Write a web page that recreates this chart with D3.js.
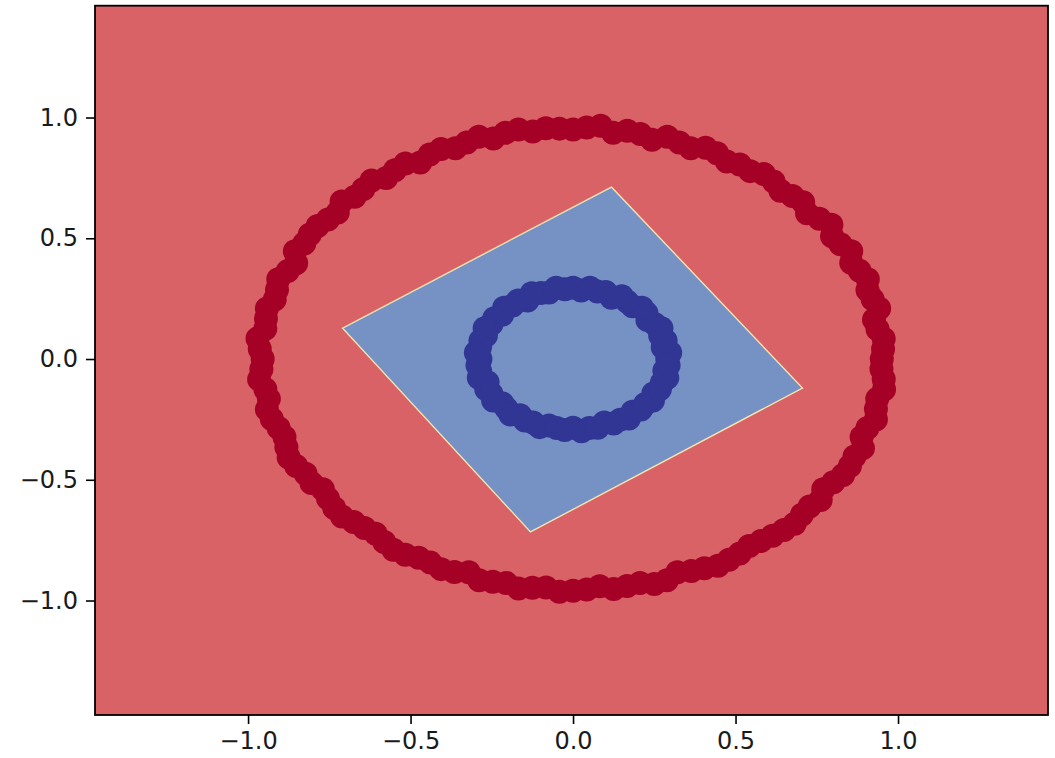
<!DOCTYPE html>
<html>
<head>
<meta charset="utf-8">
<script src="https://cdn.jsdelivr.net/npm/d3@7"></script>
<style>
  html, body { margin: 0; padding: 0; background: #ffffff; }
  svg { display: block; }
  .tick text { font-family: "DejaVu Sans", sans-serif; }
</style>
</head>
<body>
<div id="chart"></div>
<script>
// Outer ring samples (class 0)
const outerX = [
  0.950, 0.954, 0.956, 0.937, 0.926, 0.942, 0.922, 0.906, 0.907, 0.882, 0.856, 0.856, 0.823, 0.797, 0.795, 0.758,
  0.720, 0.708, 0.675, 0.638, 0.617, 0.587, 0.545, 0.513, 0.473, 0.443, 0.408, 0.362, 0.327, 0.290, 0.243, 0.207,
  0.167, 0.123, 0.085, 0.042, 0.000, -0.042, -0.084, -0.124, -0.168, -0.208, -0.245, -0.290, -0.327, -0.362, -0.406, -0.441,
  -0.470, -0.516, -0.548, -0.575, -0.620, -0.645, -0.672, -0.712, -0.724, -0.754, -0.786, -0.810, -0.827, -0.856, -0.852, -0.878,
  -0.907, -0.911, -0.918, -0.942, -0.945, -0.947, -0.971, -0.964, -0.955, -0.959, -0.966, -0.947, -0.936, -0.942, -0.927, -0.906,
  -0.888, -0.882, -0.875, -0.852, -0.823, -0.805, -0.770, -0.754, -0.735, -0.711, -0.675, -0.642, -0.607, -0.581, -0.553, -0.516,
  -0.475, -0.439, -0.406, -0.365, -0.321, -0.289, -0.247, -0.206, -0.168, -0.125, -0.083, -0.042, 0.000, 0.042, 0.082, 0.125,
  0.166, 0.206, 0.250, 0.289, 0.321, 0.364, 0.404, 0.446, 0.480, 0.513, 0.542, 0.578, 0.614, 0.649, 0.682, 0.704,
  0.728, 0.762, 0.770, 0.801, 0.831, 0.852, 0.866, 0.892, 0.888, 0.906, 0.932, 0.932, 0.936, 0.957, 0.956, 0.949
];
const outerY = [
  0.000, 0.042, 0.084, 0.123, 0.163, 0.209, 0.247, 0.286, 0.330, 0.365, 0.399, 0.446, 0.475, 0.508, 0.556, 0.581,
  0.604, 0.649, 0.675, 0.697, 0.735, 0.766, 0.778, 0.805, 0.818, 0.852, 0.875, 0.873, 0.897, 0.920, 0.908, 0.932,
  0.945, 0.937, 0.966, 0.959, 0.950, 0.954, 0.956, 0.942, 0.950, 0.937, 0.913, 0.920, 0.897, 0.873, 0.870, 0.847,
  0.814, 0.810, 0.782, 0.750, 0.739, 0.704, 0.672, 0.652, 0.607, 0.578, 0.551, 0.516, 0.478, 0.446, 0.397, 0.364,
  0.330, 0.287, 0.246, 0.209, 0.167, 0.125, 0.085, 0.042, 0.000, -0.042, -0.085, -0.125, -0.165, -0.209, -0.248, -0.286,
  -0.323, -0.365, -0.408, -0.443, -0.475, -0.513, -0.539, -0.578, -0.617, -0.652, -0.675, -0.700, -0.724, -0.758, -0.790, -0.810,
  -0.823, -0.843, -0.870, -0.882, -0.883, -0.916, -0.922, -0.927, -0.950, -0.947, -0.946, -0.964, -0.960, -0.954, -0.941, -0.952,
  -0.940, -0.927, -0.932, -0.916, -0.883, -0.878, -0.866, -0.856, -0.831, -0.805, -0.774, -0.754, -0.732, -0.708, -0.682, -0.645,
  -0.611, -0.584, -0.539, -0.510, -0.480, -0.443, -0.404, -0.369, -0.323, -0.286, -0.250, -0.207, -0.165, -0.126, -0.084, -0.041
];

// Inner ring samples (class 1)
const innerX = [
  0.290, 0.299, 0.276, 0.285, 0.268, 0.272, 0.251, 0.229, 0.226, 0.212, 0.183, 0.166, 0.150, 0.118, 0.101, 0.075,
  0.052, 0.025, 0.000, -0.025, -0.052, -0.074, -0.099, -0.127, -0.140, -0.169, -0.186, -0.212, -0.218, -0.242, -0.251, -0.272,
  -0.268, -0.285, -0.286, -0.299, -0.285, -0.294, -0.286, -0.290, -0.263, -0.267, -0.251, -0.246, -0.218, -0.205, -0.193, -0.163,
  -0.148, -0.123, -0.103, -0.074, -0.050, -0.026, 0.000, 0.026, 0.050, 0.076, 0.096, 0.125, 0.145, 0.172, 0.183, 0.209,
  0.222, 0.246, 0.247, 0.267, 0.273, 0.290, 0.281, 0.294
];
const innerY = [
  0.000, 0.026, 0.049, 0.076, 0.097, 0.127, 0.145, 0.161, 0.190, 0.212, 0.218, 0.238, 0.260, 0.254, 0.277, 0.280,
  0.295, 0.284, 0.295, 0.289, 0.295, 0.275, 0.273, 0.272, 0.242, 0.242, 0.222, 0.212, 0.183, 0.169, 0.145, 0.127,
  0.097, 0.076, 0.050, 0.026, 0.000, -0.026, -0.050, -0.078, -0.096, -0.125, -0.145, -0.172, -0.183, -0.205, -0.230, -0.233,
  -0.255, -0.263, -0.282, -0.275, -0.286, -0.294, -0.285, -0.299, -0.286, -0.285, -0.263, -0.267, -0.251, -0.246, -0.218, -0.209,
  -0.186, -0.172, -0.143, -0.125, -0.099, -0.078, -0.049, -0.026
];

// Region predicted as class 1 (corners of the decision boundary)
const regionX = [0.118, 0.706, -0.131, -0.709];
const regionY = [0.712, -0.120, -0.716, 0.128];

const tickValues = [-1.0, -0.5, 0.0, 0.5, 1.0];
const xDomain = [-1.471, 1.4615];
const yDomain = [-1.474, 1.463];

const W = 1055, H = 758;
const plot = { left: 95, right: 1048, top: 5.7, bottom: 715 };

const svg = d3.select("#chart").append("svg")
  .attr("width", W).attr("height", H);

const x = d3.scaleLinear().domain(xDomain).range([plot.left, plot.right]);
const y = d3.scaleLinear().domain(yDomain).range([plot.bottom, plot.top]);

svg.append("defs").append("clipPath").attr("id", "plot-clip")
  .append("rect")
  .attr("x", plot.left).attr("y", plot.top)
  .attr("width", plot.right - plot.left).attr("height", plot.bottom - plot.top);

const g = svg.append("g").attr("clip-path", "url(#plot-clip)");

// class 0 background
g.append("rect")
  .attr("x", plot.left).attr("y", plot.top)
  .attr("width", plot.right - plot.left).attr("height", plot.bottom - plot.top)
  .attr("fill", "#d96266");

// class 1 region
const regionPts = regionX.map((v, i) => [x(v), y(regionY[i])]);
g.append("path")
  .attr("d", d3.line()(regionPts) + "Z")
  .attr("fill", "#7691c4")
  .attr("stroke", "#f2e4b0")
  .attr("stroke-width", 1.4)
  .attr("stroke-linejoin", "miter");

const r = 12;
g.append("g").selectAll("circle")
  .data(outerX.map((v, i) => [v, outerY[i]]))
  .join("circle")
  .attr("cx", d => x(d[0])).attr("cy", d => y(d[1]))
  .attr("r", r).attr("fill", "#a50026");

g.append("g").selectAll("circle")
  .data(innerX.map((v, i) => [v, innerY[i]]))
  .join("circle")
  .attr("cx", d => x(d[0])).attr("cy", d => y(d[1]))
  .attr("r", r).attr("fill", "#313695");

// axes
const fmt = d => d3.format(".1f")(d).replace("-", "\u2212");

const xAxis = svg.append("g")
  .attr("transform", `translate(0,${plot.bottom})`)
  .call(d3.axisBottom(x).tickValues(tickValues).tickFormat(fmt).tickSize(9).tickPadding(8));
const yAxis = svg.append("g")
  .attr("transform", `translate(${plot.left},0)`)
  .call(d3.axisLeft(y).tickValues(tickValues).tickFormat(fmt).tickSize(9).tickPadding(8));

[xAxis, yAxis].forEach(a => {
  a.select(".domain").remove();
  a.selectAll(".tick line").attr("stroke", "#000").attr("stroke-width", 1.6);
  a.selectAll(".tick text").attr("fill", "#1a1a1a").style("font-size", "24px");
});

// frame
svg.append("rect")
  .attr("x", plot.left).attr("y", plot.top)
  .attr("width", plot.right - plot.left).attr("height", plot.bottom - plot.top)
  .attr("fill", "none").attr("stroke", "#000").attr("stroke-width", 1.8);
</script>
</body>
</html>
